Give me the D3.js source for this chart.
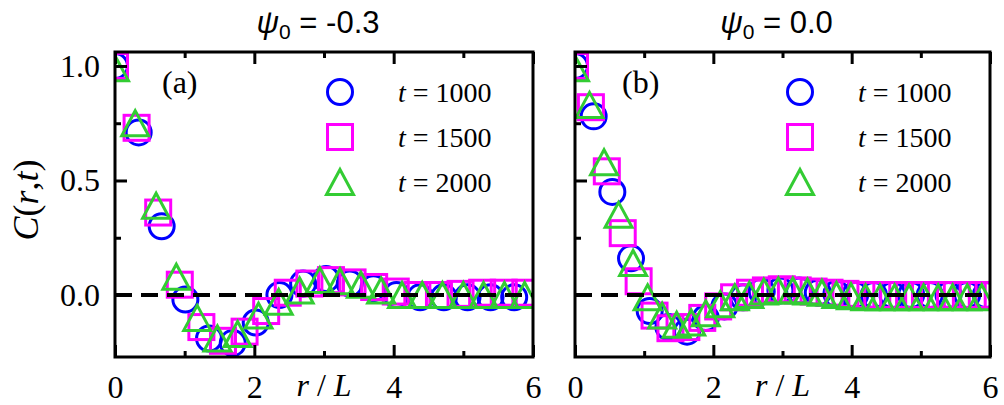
<!DOCTYPE html>
<html>
<head>
<meta charset="utf-8">
<script src="https://cdn.jsdelivr.net/npm/d3@7"></script>
<style>
  body { margin: 0; background: #fff; }
  svg text { fill: #000; }
</style>
</head>
<body>
<svg id="chart" width="1004" height="405"></svg>
<script>

// ---------- data ----------

// panel (a) : psi0 = -0.3
var rA_1000 = [0, 0.34, 0.67, 1.01, 1.35, 1.69, 2.02, 2.36, 2.70, 3.03, 3.37, 3.71, 4.04, 4.38, 4.72, 5.06, 5.39, 5.73];
var cA_1000 = [1.0, 0.71, 0.30, -0.02, -0.19, -0.21, -0.12, 0.0, 0.05, 0.07, 0.05, 0.03, 0.0, -0.01, -0.01, -0.01, -0.01, -0.01];

var rA_1500 = [0, 0.31, 0.62, 0.93, 1.24, 1.55, 1.86, 2.17, 2.48, 2.79, 3.10, 3.41, 3.72, 4.03, 4.34, 4.65, 4.96, 5.27, 5.58, 5.89];
var cA_1500 = [1.0, 0.73, 0.36, 0.045, -0.14, -0.20, -0.16, -0.07, 0.01, 0.05, 0.065, 0.055, 0.035, 0.015, 0.0, 0.0, 0.005, 0.01, 0.01, 0.01];

var rA_2000 = [0, 0.29, 0.59, 0.88, 1.18, 1.47, 1.76, 2.06, 2.35, 2.65, 2.94, 3.23, 3.53, 3.82, 4.12, 4.41, 4.70, 5.00, 5.29, 5.59, 5.88];
var cA_2000 = [0.99, 0.75, 0.39, 0.08, -0.10, -0.19, -0.17, -0.09, -0.03, 0.02, 0.065, 0.06, 0.045, 0.02, 0.0, 0.0, 0.0, 0.0, 0.0, 0.0, 0.0];

// panel (b) : psi0 = 0.0
var rB_1000 = [0, 0.27, 0.54, 0.81, 1.08, 1.35, 1.62, 1.89, 2.16, 2.43, 2.70, 2.97, 3.24, 3.51, 3.78, 4.05, 4.32, 4.59, 4.86, 5.13, 5.40, 5.67, 5.94];
var cB_1000 = [1.0, 0.78, 0.45, 0.16, -0.07, -0.14, -0.16, -0.10, -0.05, -0.01, 0.015, 0.02, 0.02, 0.01, 0.005, 0.0, 0.0, 0.0, 0.0, 0.0, 0.0, 0.0, 0.0];

var rB_1500 = [0, 0.23, 0.46, 0.69, 0.92, 1.15, 1.38, 1.61, 1.84, 2.07, 2.30, 2.53, 2.76, 2.99, 3.22, 3.45, 3.68, 3.91, 4.14, 4.37, 4.60, 4.83, 5.06, 5.29, 5.52, 5.75, 5.98];
var cB_1500 = [1.0, 0.82, 0.54, 0.27, 0.06, -0.09, -0.145, -0.14, -0.10, -0.05, -0.01, 0.01, 0.02, 0.025, 0.02, 0.015, 0.01, 0.005, 0.0, 0.0, 0.0, 0.0, 0.0, 0.0, 0.0, 0.0, 0.0];

var rB_2000 = [0, 0.21, 0.42, 0.63, 0.84, 1.05, 1.26, 1.47, 1.68, 1.89, 2.10, 2.31, 2.52, 2.73, 2.94, 3.15, 3.36, 3.57, 3.78, 3.99, 4.20, 4.41, 4.62, 4.83, 5.04, 5.25, 5.46, 5.67, 5.88];
var cB_2000 = [0.99, 0.83, 0.58, 0.35, 0.14, -0.01, -0.09, -0.13, -0.12, -0.08, -0.04, -0.01, 0.0, 0.015, 0.02, 0.02, 0.015, 0.01, 0.0, -0.005, -0.01, -0.01, -0.01, -0.01, -0.01, -0.01, -0.01, -0.01, -0.01];

// legend / ticks
var legendLabels = ["1000", "1500", "2000"];
var xMajorTicks = [0, 2, 4, 6];
var xMinorTicks = [1, 3, 5];
var yMajorTicks = [0, 0.5, 1.0];
var yMinorTicks = [0.25, 0.75];

var panels = [
  {id: "a", psi: "-0.3", left: 115, width: 418, yLabels: true,
   series: [[rA_1000, cA_1000], [rA_1500, cA_1500], [rA_2000, cA_2000]]},
  {id: "b", psi: "0.0", left: 575, width: 415, yLabels: false,
   series: [[rB_1000, cB_1000], [rB_1500, cB_1500], [rB_2000, cB_2000]]}
];

// ---------- styles ----------
var colors = ["#0000ff", "#ff00ff", "#33cc33"];
var markers = ["circle", "square", "triangle"];
var plotTop = 52, plotHeight = 305;
var serif = "Liberation Serif, Times New Roman, serif";
var sans = "Liberation Sans, Arial, sans-serif";

var svg = d3.select("#chart");

// draw one marker into a group
function drawMarker(g, type, color, cx, cy) {
  if (type == "circle") {
    g.append("circle").attr("cx", cx).attr("cy", cy).attr("r", 12.5)
      .attr("fill", "none").attr("stroke", color).attr("stroke-width", 3);
  } else if (type == "square") {
    g.append("rect").attr("x", cx - 12.5).attr("y", cy - 12.5)
      .attr("width", 25).attr("height", 25)
      .attr("fill", "none").attr("stroke", color).attr("stroke-width", 3);
  } else {
    var w = 13.5, h = 12.5;
    g.append("path")
      .attr("d", "M" + cx + "," + (cy - h) + "L" + (cx + w) + "," + (cy + h) + "L" + (cx - w) + "," + (cy + h) + "Z")
      .attr("fill", "none").attr("stroke", color).attr("stroke-width", 3)
      .attr("stroke-linejoin", "miter");
  }
}

panels.forEach(function(p) {

  var x = d3.scaleLinear().domain([0, 6]).range([0, p.width]);
  var y = d3.scaleLinear().domain([-0.2707, 1.061]).range([plotHeight, 0]);

  var g = svg.append("g").attr("transform", "translate(" + p.left + "," + plotTop + ")");

  // clip path for the data
  svg.append("clipPath").attr("id", "clip-" + p.id)
    .append("rect").attr("width", p.width).attr("height", plotHeight);

  var plot = g.append("g").attr("clip-path", "url(#clip-" + p.id + ")");

  // markers: blue, then magenta, then green
  p.series.forEach(function(s, k) {
    var grp = plot.append("g");
    s[0].forEach(function(r, i) {
      drawMarker(grp, markers[k], colors[k], x(r), y(s[1][i]));
    });
  });

  // dashed zero line
  plot.append("line")
    .attr("x1", 0).attr("x2", p.width)
    .attr("y1", y(0)).attr("y2", y(0))
    .attr("stroke", "#000").attr("stroke-width", 4)
    .attr("stroke-dasharray", "17,9");

  // axes (ticks pointing inwards)
  var xAxisG = g.append("g").attr("transform", "translate(0," + plotHeight + ")")
    .call(d3.axisBottom(x).tickValues(xMajorTicks).tickSize(-12).tickPadding(18).tickFormat(d3.format("d")));
  g.append("g").attr("transform", "translate(0," + plotHeight + ")")
    .call(d3.axisBottom(x).tickValues(xMinorTicks).tickSize(-6).tickFormat(""));
  g.append("g").call(d3.axisTop(x).tickValues(xMajorTicks).tickSize(-12).tickFormat(""));
  g.append("g").call(d3.axisTop(x).tickValues(xMinorTicks).tickSize(-6).tickFormat(""));

  var yAxisG = g.append("g")
    .call(d3.axisLeft(y).tickValues(yMajorTicks).tickSize(-12).tickPadding(15)
      .tickFormat(p.yLabels ? d3.format(".1f") : ""));
  g.append("g").call(d3.axisLeft(y).tickValues(yMinorTicks).tickSize(-6).tickFormat(""));

  [xAxisG, yAxisG].forEach(function(ax) {
    ax.attr("font-family", serif).attr("font-size", 32);
  });

  g.selectAll(".domain").remove();
  g.selectAll(".tick line").attr("stroke", "#000").attr("stroke-width", 3);
  g.selectAll(".tick text").attr("fill", "#000");

  // frame
  g.append("rect").attr("width", p.width).attr("height", plotHeight)
    .attr("fill", "none").attr("stroke", "#000").attr("stroke-width", 3);

  // panel label
  g.append("text").attr("x", 47).attr("y", 41)
    .attr("font-family", serif).attr("font-size", 32)
    .text("(" + p.id + ")");

  // legend
  legendLabels.forEach(function(lab, k) {
    var ly = 40 + k * 45;
    var lg = g.append("g");
    drawMarker(lg, markers[k], colors[k], 225, ly);
    var t = lg.append("text").attr("x", 283).attr("y", ly + 10)
      .attr("font-family", serif).attr("font-size", 28);
    t.append("tspan").attr("font-style", "italic").text("t");
    t.append("tspan").text(" = " + lab);
  });

  // title
  var tt = svg.append("text")
    .attr("x", p.left + p.width / 2 - 6).attr("y", 33)
    .attr("text-anchor", "middle")
    .attr("font-family", sans).attr("font-size", 31);
  tt.append("tspan").attr("font-style", "italic").text("\u03C8");
  tt.append("tspan").attr("dy", 6).attr("font-size", 21).text("0");
  tt.append("tspan").attr("dy", -6).text(" = " + p.psi);

  // x label
  var xt = svg.append("text")
    .attr("x", p.left + x(3)).attr("y", 396)
    .attr("text-anchor", "middle")
    .attr("font-family", serif).attr("font-size", 32);
  xt.append("tspan").attr("font-style", "italic").text("r");
  xt.append("tspan").text(" / ");
  xt.append("tspan").attr("font-style", "italic").text("L");
});

// y label
var yt = svg.append("text")
  .attr("transform", "translate(38,200) rotate(-90)")
  .attr("text-anchor", "middle")
  .attr("font-family", serif).attr("font-size", 36);
yt.append("tspan").attr("font-style", "italic").text("C");
yt.append("tspan").text("(");
yt.append("tspan").attr("font-style", "italic").text("r");
yt.append("tspan").text(",");
yt.append("tspan").attr("font-style", "italic").text("t");
yt.append("tspan").text(")");

</script>
</body>
</html>
